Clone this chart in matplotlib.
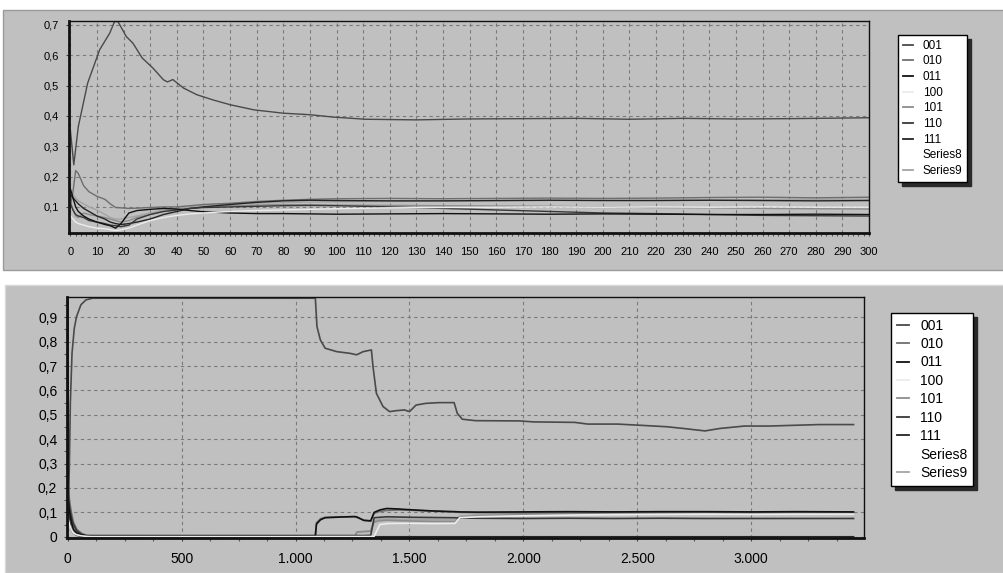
import matplotlib
matplotlib.use("Agg")
import matplotlib.pyplot as plt
from matplotlib.patches import Rectangle
from matplotlib.ticker import FixedLocator, FuncFormatter, MultipleLocator

plt.rcParams['font.family'] = ['Liberation Sans', 'DejaVu Sans']

# ---------------- data: top chart (0..300) ----------------
labels = ["001", "010", "011", "100", "101", "110", "111", "Series8", "Series9"]
colors = ["#4a4a4a", "#6e6e6e", "#111111", "#ececec", "#8c8c8c", "#383838", "#242424", "#ffffff", "#a4a4a4"]

top_main_x = [0, 1.3, 3, 6.5, 11, 14.8, 16.6, 17.9, 21, 23.5, 27, 31, 35, 36.5, 38.5, 42.5, 47.5,
              53.5, 60, 69, 80, 90, 99, 111, 130, 149, 170, 190, 210, 230, 250, 270, 290, 300]
top_main_y = [0.354, 0.239, 0.365, 0.508, 0.618, 0.673, 0.711, 0.711, 0.662, 0.640, 0.591, 0.558,
              0.519, 0.512, 0.520, 0.492, 0.470, 0.453, 0.437, 0.420, 0.409, 0.404, 0.396, 0.389,
              0.387, 0.390, 0.391, 0.392, 0.389, 0.392, 0.390, 0.391, 0.393, 0.394]

top_x = [0, 1, 2, 3, 5, 7, 10, 13, 15, 17, 19, 22, 25, 30, 35, 40, 45, 50, 60, 70, 80, 90, 100,
         120, 140, 160, 180, 200, 220, 240, 260, 280, 300]
top_010 = [0.10, 0.15, 0.22, 0.21, 0.17, 0.15, 0.135, 0.125, 0.11, 0.098, 0.097, 0.095, 0.096,
           0.098, 0.100, 0.100, 0.104, 0.108, 0.112, 0.118, 0.122, 0.125, 0.127, 0.128, 0.127,
           0.128, 0.129, 0.128, 0.129, 0.131, 0.132, 0.130, 0.132]
top_011 = [0.16, 0.13, 0.10, 0.085, 0.070, 0.060, 0.050, 0.042, 0.038, 0.030, 0.045, 0.080,
           0.088, 0.092, 0.095, 0.093, 0.088, 0.084, 0.080, 0.078, 0.078, 0.077, 0.076, 0.077,
           0.078, 0.077, 0.076, 0.077, 0.076, 0.075, 0.075, 0.076, 0.075]
top_100 = [0.07, 0.06, 0.05, 0.045, 0.040, 0.035, 0.030, 0.028, 0.025, 0.022, 0.025, 0.030,
           0.040, 0.055, 0.065, 0.072, 0.077, 0.080, 0.085, 0.088, 0.090, 0.092, 0.094, 0.097,
           0.098, 0.099, 0.100, 0.099, 0.100, 0.099, 0.100, 0.099, 0.099]
top_101 = [0.12, 0.09, 0.07, 0.065, 0.080, 0.075, 0.070, 0.065, 0.060, 0.055, 0.050, 0.055,
           0.065, 0.075, 0.085, 0.090, 0.095, 0.100, 0.104, 0.106, 0.108, 0.107, 0.106, 0.105,
           0.104, 0.103, 0.102, 0.100, 0.098, 0.097, 0.095, 0.094, 0.093]
top_110 = [0.11, 0.09, 0.075, 0.070, 0.065, 0.055, 0.050, 0.045, 0.040, 0.038, 0.035, 0.040,
           0.060, 0.075, 0.085, 0.090, 0.095, 0.098, 0.100, 0.102, 0.104, 0.105, 0.104, 0.100,
           0.095, 0.090, 0.085, 0.080, 0.078, 0.075, 0.072, 0.071, 0.070]
top_111 = [0.14, 0.13, 0.12, 0.11, 0.095, 0.085, 0.070, 0.060, 0.050, 0.045, 0.042, 0.045,
           0.050, 0.060, 0.075, 0.085, 0.095, 0.100, 0.108, 0.115, 0.120, 0.122, 0.121, 0.120,
           0.120, 0.121, 0.122, 0.121, 0.121, 0.122, 0.121, 0.120, 0.121]
top_s9 = [0.14, 0.14, 0.13, 0.12, 0.11, 0.10, 0.090, 0.075, 0.065, 0.060, 0.060, 0.065, 0.070,
          0.080, 0.090, 0.095, 0.100, 0.105, 0.110, 0.113, 0.115, 0.116, 0.117, 0.118, 0.119,
          0.120, 0.121, 0.122, 0.122, 0.123, 0.124, 0.125, 0.125]

top_yticks = [0.1, 0.2, 0.3, 0.4, 0.5, 0.6, 0.7]
top_xticks = list(range(0, 301, 10))

# ---------------- data: bottom chart (0..3500) ----------------
bot_main_x = [0, 7, 11.6, 19, 29, 39, 58, 80, 109, 1087, 1094, 1109, 1130, 1181, 1239, 1268, 1297,
              1333, 1340, 1355, 1384, 1413, 1442, 1478, 1500, 1529, 1572, 1630, 1696, 1710, 1732,
              1790, 1983, 2044, 2225, 2283, 2413, 2515, 2631, 2703, 2797, 2862, 2971, 3080, 3297, 3449]
bot_main_y = [0.05, 0.274, 0.547, 0.752, 0.855, 0.903, 0.951, 0.971, 0.978, 0.978, 0.862, 0.807,
              0.773, 0.759, 0.752, 0.746, 0.759, 0.766, 0.698, 0.588, 0.534, 0.513, 0.517, 0.520,
              0.513, 0.540, 0.547, 0.550, 0.550, 0.506, 0.482, 0.476, 0.475, 0.471, 0.469, 0.462,
              0.462, 0.457, 0.451, 0.444, 0.434, 0.444, 0.454, 0.454, 0.460, 0.460]

bot_x = [0, 3, 8, 16, 25, 40, 60, 80, 100, 1087, 1092, 1110, 1130, 1200, 1260, 1270, 1300, 1330,
         1345, 1370, 1400, 1450, 1500, 1600, 1700, 1720, 1800, 2000, 2200, 2400, 2600, 2800,
         3000, 3200, 3449]
bot_010 = [0.22, 0.20, 0.15, 0.10, 0.06, 0.03, 0.015, 0.006, 0.004, 0.004, 0.058, 0.074, 0.080,
           0.082, 0.082, 0.079, 0.068, 0.066, 0.096, 0.104, 0.108, 0.110, 0.109, 0.105, 0.101,
           0.100, 0.099, 0.098, 0.099, 0.100, 0.099, 0.100, 0.099, 0.098, 0.098]
bot_011 = [0.98, 0.15, 0.10, 0.06, 0.03, 0.015, 0.008, 0.004, 0.003, 0.004, 0.052, 0.070, 0.078,
           0.081, 0.083, 0.081, 0.067, 0.065, 0.100, 0.110, 0.116, 0.114, 0.111, 0.106, 0.103,
           0.102, 0.101, 0.102, 0.103, 0.102, 0.103, 0.103, 0.102, 0.103, 0.102]
bot_100 = [0.08, 0.07, 0.05, 0.03, 0.015, 0.008, 0.004, 0.002, 0.001, 0.001, 0.001, 0.001, 0.001,
           0.001, 0.001, 0.001, 0.001, 0.001, 0.002, 0.050, 0.054, 0.055, 0.055, 0.054, 0.055,
           0.078, 0.082, 0.086, 0.089, 0.091, 0.092, 0.093, 0.092, 0.093, 0.093]
bot_101 = [0.12, 0.11, 0.09, 0.06, 0.04, 0.02, 0.01, 0.005, 0.003, 0.003, 0.003, 0.003, 0.003,
           0.003, 0.003, 0.020, 0.022, 0.024, 0.060, 0.066, 0.068, 0.066, 0.065, 0.063, 0.062,
           0.080, 0.086, 0.090, 0.093, 0.095, 0.096, 0.097, 0.096, 0.096, 0.096]
bot_110 = [0.18, 0.16, 0.12, 0.08, 0.05, 0.025, 0.01, 0.005, 0.005, 0.005, 0.005, 0.005, 0.005,
           0.005, 0.005, 0.005, 0.005, 0.006, 0.078, 0.080, 0.082, 0.081, 0.080, 0.079, 0.078,
           0.077, 0.076, 0.075, 0.076, 0.075, 0.076, 0.075, 0.075, 0.075, 0.075]
bot_111 = [0.10, 0.09, 0.06, 0.03, 0.015, 0.006, 0.002, 0.001, 0.0, 0.0, 0.0, 0.0, 0.0, 0.0, 0.0,
           0.0, 0.0, 0.0, 0.0, 0.0, 0.0, 0.0, 0.0, 0.0, 0.0, 0.0, 0.0, 0.0, 0.0, 0.0, 0.0, 0.0,
           0.0, 0.0, 0.0]
bot_s9 = [0.14, 0.12, 0.09, 0.05, 0.03, 0.015, 0.008, 0.004, 0.003, 0.003, 0.003, 0.003, 0.003,
          0.003, 0.003, 0.018, 0.020, 0.022, 0.065, 0.072, 0.074, 0.072, 0.071, 0.070, 0.069,
          0.085, 0.090, 0.094, 0.097, 0.098, 0.099, 0.100, 0.099, 0.100, 0.100]

bot_yticks = [0, 0.1, 0.2, 0.3, 0.4, 0.5, 0.6, 0.7, 0.8, 0.9]
bot_xticks = [0, 500, 1000, 1500, 2000, 2500, 3000]

# ---------------- figure ----------------
W, H = 1004, 573
fig = plt.figure(figsize=(W / 100, H / 100), dpi=100, facecolor="white")
PANEL = "#c0c0c0"


def fx(px):
    return px / W


def fy(py):
    return 1 - py / H


# gray panels
fig.patches.append(Rectangle((fx(3), fy(270)), fx(1001), 260 / H, transform=fig.transFigure,
                             facecolor=PANEL, edgecolor="#9a9a9a", lw=1.0, zorder=-10))
fig.patches.append(Rectangle((fx(5), fy(573)), fx(999), 288 / H, transform=fig.transFigure,
                             facecolor=PANEL, edgecolor="#d8d8d8", lw=1.0, zorder=-10))

ax1 = fig.add_axes([fx(69), fy(233), fx(800), 212 / H])
ax2 = fig.add_axes([fx(67), fy(538), fx(797), 241 / H])

lw = 1.0

# top series
top_series = [(top_main_x, top_main_y), (top_x, top_010), (top_x, top_011), (top_x, top_100),
              (top_x, top_101), (top_x, top_110), (top_x, top_111), ([], []), (top_x, top_s9)]
order = [8, 4, 1, 6, 5, 2, 3, 0, 7]
handles1 = {}
for i in order:
    xs, ys = top_series[i]
    ln, = ax1.plot(xs, ys, color=colors[i], lw=lw, label=labels[i])
    handles1[i] = ln

bot_series = [(bot_main_x, bot_main_y), (bot_x, bot_010), (bot_x, bot_011), (bot_x, bot_100),
              (bot_x, bot_101), (bot_x, bot_110), (bot_x, bot_111), ([], []), (bot_x, bot_s9)]
handles2 = {}
for i in order:
    xs, ys = bot_series[i]
    ln, = ax2.plot(xs, ys, color=colors[i], lw=lw + 0.2, label=labels[i])
    handles2[i] = ln

comma = FuncFormatter(lambda v, p: ("%g" % round(v, 2)).replace(".", ","))
thous = FuncFormatter(lambda v, p: f"{int(round(v)):,}".replace(",", "."))

for ax, fs, xpad in ((ax1, 8, 8), (ax2, 10, 8)):
    ax.set_facecolor(PANEL)
    ax.grid(True, which="major", color="#7a7a7a", linestyle=(0, (3, 3)), lw=0.8)
    ax.set_axisbelow(True)
    for side in ("top", "right"):
        ax.spines[side].set_linewidth(1.0)
    for side in ("left", "bottom"):
        ax.spines[side].set_linewidth(2.0)
    for sp in ax.spines.values():
        sp.set_color("#111111")
        sp.set_zorder(5)
    ax.tick_params(which="major", length=2, width=0.8, color="#444444", labelsize=fs,
                   labelcolor="black", pad=5, direction="out")
    ax.tick_params(axis="x", which="major", pad=xpad)
    ax.tick_params(which="minor", length=2, width=0.8, color="#555555", direction="out")

ax1.set_xlim(-0.5, 300)
ax1.set_ylim(0.014, 0.713)
ax1.xaxis.set_major_locator(FixedLocator(top_xticks))
ax1.xaxis.set_minor_locator(MultipleLocator(2))
ax1.yaxis.set_major_locator(FixedLocator(top_yticks))
ax1.yaxis.set_major_formatter(comma)

ax2.set_xlim(-3, 3495)
ax2.set_ylim(-0.005, 0.983)
ax2.xaxis.set_major_locator(FixedLocator(bot_xticks))
ax2.xaxis.set_minor_locator(MultipleLocator(125))
ax2.xaxis.set_major_formatter(thous)
ax2.yaxis.set_major_locator(FixedLocator(bot_yticks))
ax2.yaxis.set_minor_locator(MultipleLocator(0.05))
ax2.yaxis.set_major_formatter(comma)

shadow = {"ox": 3, "oy": -3, "facecolor": "#2a2a2a", "edgecolor": "#2a2a2a", "alpha": 1.0}
leg_kw = dict(loc="upper left", frameon=True, fancybox=False, shadow=shadow,
              handletextpad=0.8, borderaxespad=0, framealpha=1, edgecolor="black")

leg1 = fig.legend([handles1[i] for i in range(9)], labels, bbox_to_anchor=(fx(898), fy(35)),
                  prop={"size": 8.5}, handlelength=0.9, labelspacing=0.31, borderpad=0.4, **leg_kw)
leg2 = fig.legend([handles2[i] for i in range(9)], labels, bbox_to_anchor=(fx(891), fy(313)),
                  prop={"size": 10}, handlelength=0.9, labelspacing=0.32, borderpad=0.4, **leg_kw)
for leg in (leg1, leg2):
    leg.get_frame().set_linewidth(1.0)
    for h in leg.get_lines():
        h.set_linewidth(1.3)

fig.savefig("out.png", dpi=100, facecolor="white")
